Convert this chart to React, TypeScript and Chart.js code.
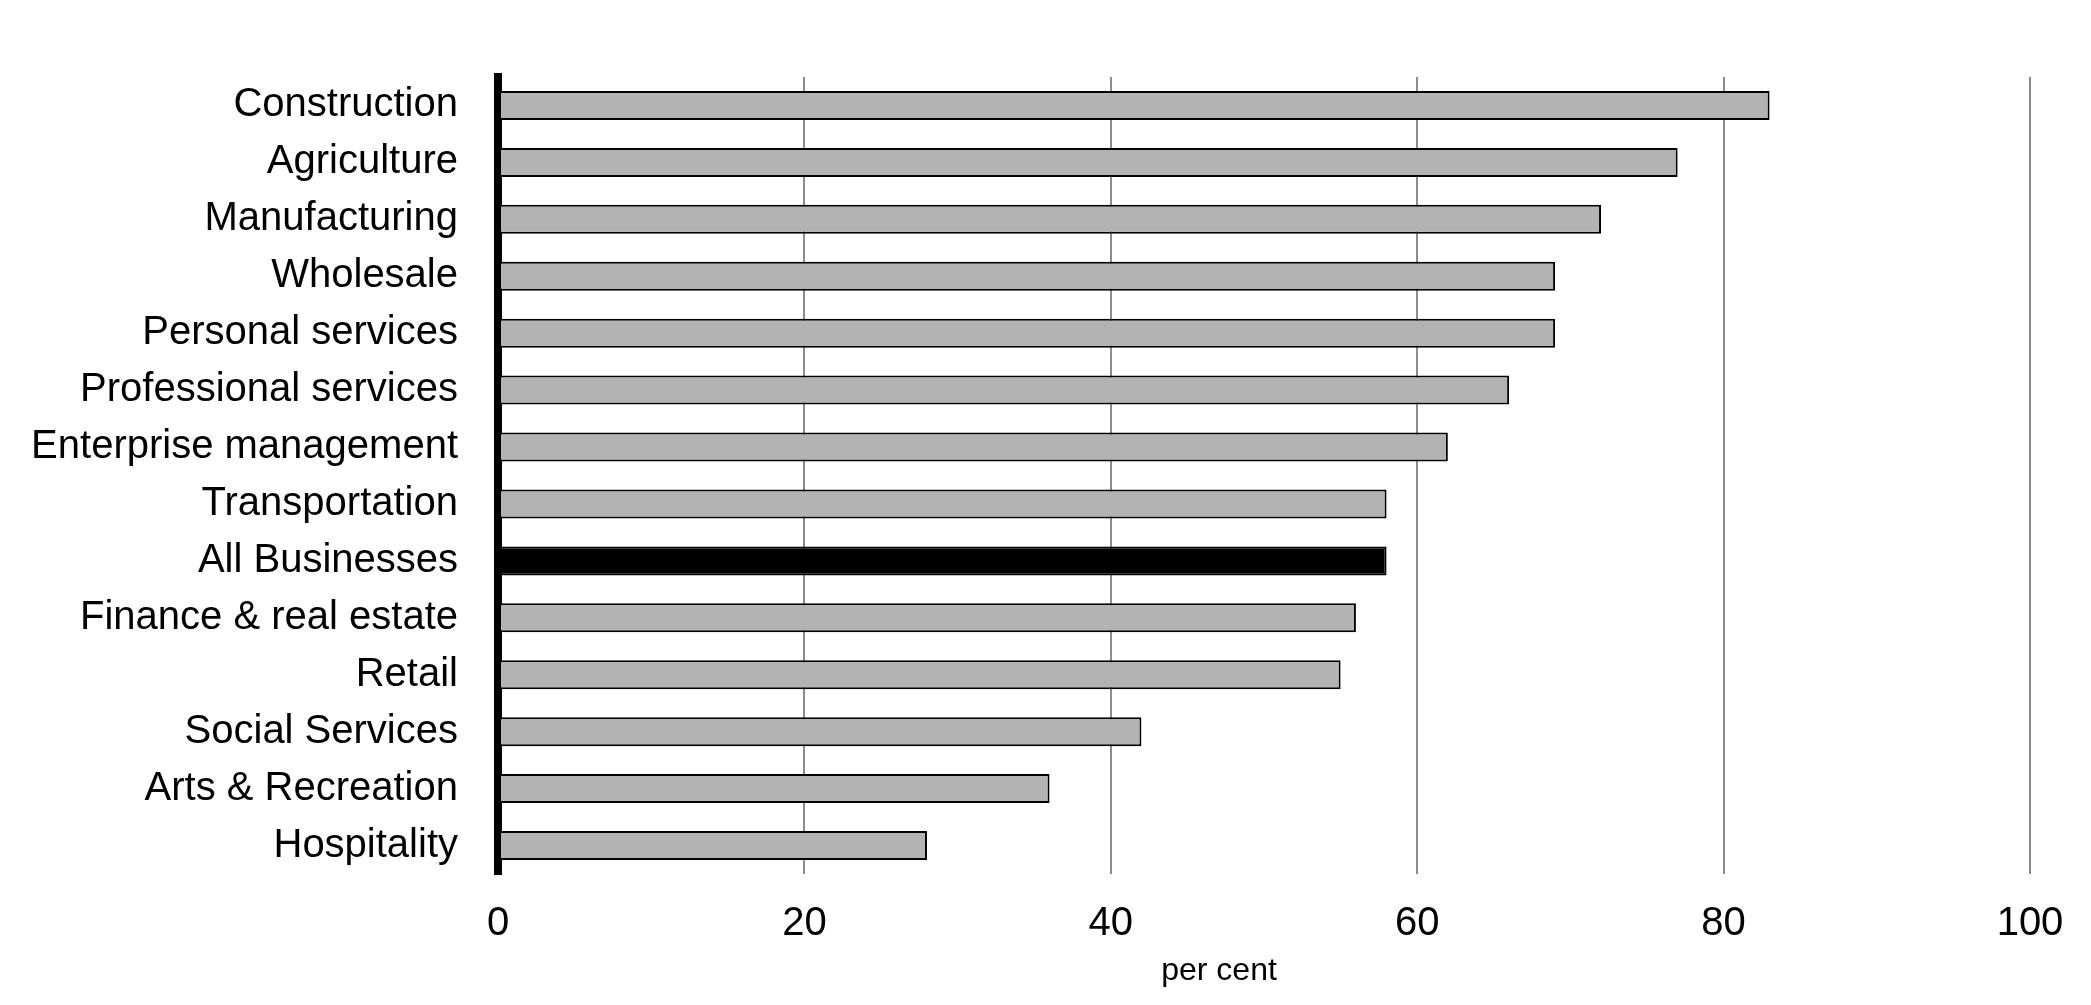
import React, { useEffect, useRef } from "react";
import { Chart, registerables } from "chart.js";

Chart.register(...registerables);

const categories = [
  "Construction",
  "Agriculture",
  "Manufacturing",
  "Wholesale",
  "Personal services",
  "Professional services",
  "Enterprise management",
  "Transportation",
  "All Businesses",
  "Finance & real estate",
  "Retail",
  "Social Services",
  "Arts & Recreation",
  "Hospitality",
];

const values = [83, 77, 72, 69, 69, 66, 62, 58, 58, 56, 55, 42, 36, 28];

const highlighted = "All Businesses";

const xTicks = [0, 20, 40, 60, 80, 100];

const axisTitle = "per cent";

const FONT = "'Liberation Sans', Arial, Helvetica, sans-serif";

export default function App() {
  const ref = useRef<HTMLCanvasElement | null>(null);

  useEffect(() => {
    if (!ref.current) return;
    const titlePlugin = {
      id: "axisTitle",
      afterDraw(chart: any) {
        const { ctx, chartArea } = chart;
        ctx.save();
        ctx.font = `32px ${FONT}`;
        ctx.fillStyle = "#000";
        ctx.textAlign = "center";
        ctx.textBaseline = "alphabetic";
        const cx = (chartArea.left + chartArea.right) / 2 - 45;
        ctx.fillText(axisTitle, cx, chartArea.bottom + 106);
        ctx.restore();
      },
    };
    const chart = new Chart(ref.current, {
      type: "bar",
      data: {
        labels: categories,
        datasets: [
          {
            data: values,
            backgroundColor: categories.map((c) => (c === highlighted ? "#000000" : "#b3b3b3")),
            borderColor: "#000000",
            borderWidth: 2,
            borderSkipped: false,
            barPercentage: 0.51,
            categoryPercentage: 1,
          },
        ],
      },
      options: {
        indexAxis: "y",
        responsive: false,
        animation: false,
        layout: { padding: { top: 77, right: 61, bottom: 0, left: 0 } },
        plugins: {
          legend: { display: false },
          tooltip: { enabled: false },
          title: { display: false },
        },
        scales: {
          x: {
            min: 0,
            max: 100,
            afterBuildTicks(scale: any) {
              scale.ticks = xTicks.map((v) => ({ value: v }));
            },
            afterFit(scale: any) {
              scale.height = 131;
            },
            grid: {
              display: true,
              color: "#8c8c8c",
              lineWidth: 2,
              drawTicks: false,
            },
            border: { display: false },
            ticks: {
              color: "#000",
              font: { family: FONT, size: 40 },
              padding: 26,
              maxRotation: 0,
            },
          },
          y: {
            afterFit(scale: any) {
              scale.width = 498;
            },
            grid: { display: false, drawTicks: false },
            border: { display: true, color: "#000", width: 8 },
            ticks: {
              color: "#000",
              font: { family: FONT, size: 40 },
              padding: 40,
              autoSkip: false,
            },
          },
        },
      },
      plugins: [titlePlugin],
    });
    return () => chart.destroy();
  }, []);

  return (
    <div style={{ position: "absolute", left: 0, top: 0, width: 2091, height: 1005, background: "#fff" }}>
      <canvas ref={ref} width={2091} height={1005} style={{ display: "block" }} />
    </div>
  );
}
